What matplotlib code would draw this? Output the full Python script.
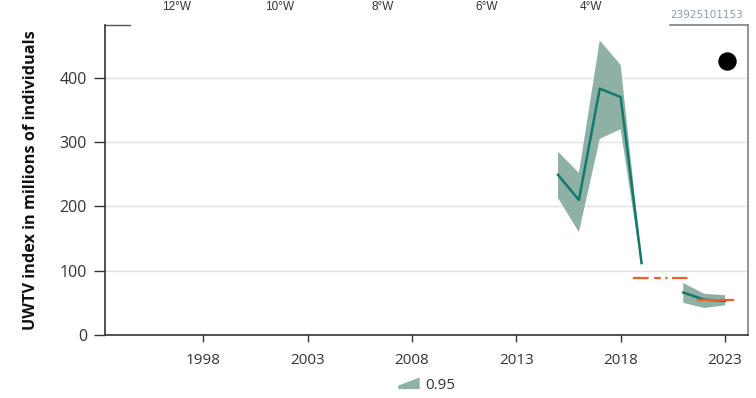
import numpy as np
import matplotlib
matplotlib.use("Agg")
import matplotlib.pyplot as plt
from matplotlib.patches import Polygon
from matplotlib.legend_handler import HandlerPatch

# ------------------------------------------------------------
# Data

years = [2015, 2016, 2017, 2018, 2019, 2020, 2021, 2022, 2023]
uwtv_index = [249, 210, 383, 370, 112, np.nan, 66, 55, 53]
ci_low = [213, 160, 305, 320, 106, np.nan, 50, 42, 46]
ci_high = [285, 252, 458, 420, 117, np.nan, 81, 64, 62]

# reference levels (orange)
ref_dashed_years = [2018.6, 2021.4]
ref_dashed_value = 89
ref_solid_years = [2021.7, 2023.4]
ref_solid_value = 54

xticks = [1998, 2003, 2008, 2013, 2018, 2023]
yticks = [0, 100, 200, 300, 400]
lon_labels = ["12°W", "10°W", "8°W", "6°W", "4°W"]
lon_pos_px = [177, 280, 383, 487, 591]
stamp_text = "23925101153"

line_color = "#137a6b"
band_color = "#8fb0a4"
ref_color = "#f0602c"

# ------------------------------------------------------------
# Figure

W, H = 756, 398
plt.rcParams["font.family"] = ["Open Sans", "DejaVu Sans"]

fig = plt.figure(figsize=(W / 100, H / 100), dpi=100)
ax = fig.add_axes([105 / W, 1 - 335 / H, 643 / W, 310 / H])

ax.fill_between(years, ci_low, ci_high, color=band_color, lw=0)
ax.plot(years, uwtv_index, color=line_color, lw=1.8)

ax.plot(ref_dashed_years, [ref_dashed_value] * 2, color=ref_color, lw=1.6,
        dashes=(7, 2.5, 3, 2, 1, 2))
ax.plot(ref_solid_years, [ref_solid_value] * 2, color=ref_color, lw=1.6)

ax.set_xlim(1993.3, 2024.1)
ax.set_ylim(0, 482)
ax.set_xticks(xticks)
ax.set_yticks(yticks)
ax.tick_params(axis="y", length=8, width=1, color="#333333", labelsize=11.5,
               labelcolor="#333333", pad=5)
ax.tick_params(axis="x", length=5, width=1, color="#333333", labelsize=11,
               labelcolor="#333333", pad=8)

for y in yticks[1:]:
    ax.axhline(y, color="#e2e2e2", lw=1, zorder=0)

ax.set_ylabel("UWTV index in millions of individuals", fontsize=11.7,
              fontweight="bold", color="#111111", labelpad=15)

for side in ["left", "bottom"]:
    ax.spines[side].set_color("#333333")
    ax.spines[side].set_linewidth(1.2)
ax.spines["right"].set_color("#8a8a8a")
ax.spines["right"].set_linewidth(1.3)
ax.spines["top"].set_visible(False)

# top frame is only partly visible
ax.plot([0, 0.039], [1, 1], transform=ax.transAxes, color="#555555", lw=1,
        clip_on=False)
ax.plot([0.879, 1], [1, 1], transform=ax.transAxes, color="#8a8a8a", lw=1.3,
        clip_on=False)

# black dot in the upper right corner
ax.scatter([0.967], [0.884], s=150, color="black", transform=ax.transAxes,
           clip_on=False, zorder=5)

# longitude labels and stamp above the plot
for lab, px in zip(lon_labels, lon_pos_px):
    fig.text(px / W, 1 - 7 / H, lab, ha="center", va="center", fontsize=8.5,
             color="#333333", family=["Liberation Sans", "DejaVu Sans"])
fig.text(743 / W, 1 - 15 / H, stamp_text, ha="right", va="center",
         fontsize=7.5, color="#8c9aa8", family=["DejaVu Sans"])

# ------------------------------------------------------------
# Legend with a wedge shaped patch


def wedge_patch(legend, orig_handle, xdescent, ydescent, width, height, fontsize):
    pts = [(-xdescent, -ydescent),
           (-xdescent + width, -ydescent),
           (-xdescent + width, -ydescent + height),
           (-xdescent, -ydescent + 0.3 * height)]
    return Polygon(pts, closed=True)


band_handle = Polygon([(0, 0), (1, 0), (1, 1)], closed=True,
                      facecolor=band_color, edgecolor="none")
fig.legend([band_handle], ["0.95"], loc="center",
           bbox_to_anchor=(427 / W, 1 - 385 / H),
           frameon=False, handlelength=1.4, handleheight=0.8, handletextpad=0.4,
           fontsize=11, labelcolor="#333333",
           handler_map={Polygon: HandlerPatch(patch_func=wedge_patch)})

fig.savefig("out.png", dpi=100)
